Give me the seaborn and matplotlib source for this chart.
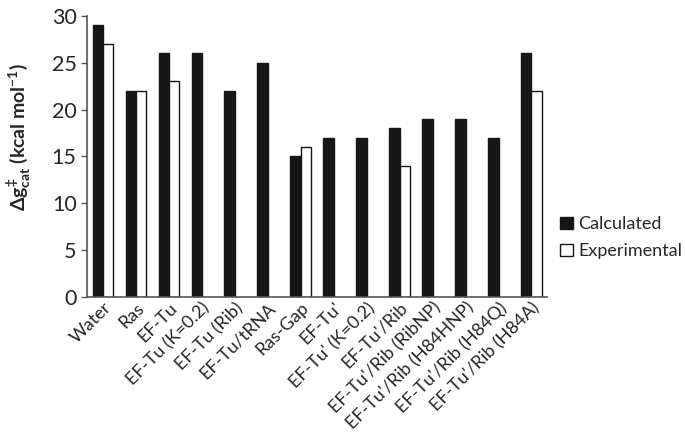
import numpy as np
import pandas as pd
import matplotlib
matplotlib.use('Agg')
import matplotlib.pyplot as plt
import seaborn as sns

# Data
systems = ['Water', 'Ras', 'EF-Tu', 'EF-Tu (K=0.2)', 'EF-Tu (Rib)', 'EF-Tu/tRNA',
           'Ras-Gap', "EF-Tu'", "EF-Tu' (K=0.2)", "EF-Tu'/Rib", "EF-Tu'/Rib (RibNP)",
           "EF-Tu'/Rib (H84HNP)", "EF-Tu'/Rib (H84Q)", "EF-Tu'/Rib (H84A)"]
calculated = [29, 22, 26, 26, 22, 25, 15, 17, 17, 18, 19, 19, 17, 26]
experimental = [27, 22, 23, np.nan, np.nan, np.nan, 16, np.nan, np.nan, 14,
                np.nan, np.nan, np.nan, 22]

df = pd.DataFrame({'System': systems * 2,
                   'Value': calculated + experimental,
                   'Type': ['Calculated'] * len(systems) + ['Experimental'] * len(systems)})

sns.set_style('ticks')
plt.rcParams['font.family'] = ['Lato', 'DejaVu Sans']
plt.rcParams['mathtext.fontset'] = 'custom'
plt.rcParams['mathtext.rm'] = 'Lato:bold'
plt.rcParams['mathtext.it'] = 'Lato:bold'
plt.rcParams['mathtext.bf'] = 'Lato:bold'

fig = plt.figure(figsize=(6.85, 4.41), dpi=100)
ax = fig.add_axes([0.127, 0.327, 0.672, 0.637])

sns.barplot(data=df, x='System', y='Value', hue='Type', ax=ax,
            palette={'Calculated': '#161616', 'Experimental': 'white'},
            width=0.62, gap=0, edgecolor='#161616', linewidth=1.0, saturation=1)

ax.set_ylim(0, 30)
ax.set_xlim(-0.48, len(systems) - 0.52)
ax.set_yticks([0, 5, 10, 15, 20, 25, 30])
ax.tick_params(axis='y', labelsize=15.5, length=4, width=1, color='#555555')
ax.tick_params(axis='x', length=0, labelsize=13, pad=2)
plt.setp(ax.get_xticklabels(), rotation=45, ha='right', rotation_mode='anchor')
for s in ['top', 'right']:
    ax.spines[s].set_visible(False)
for s in ['left', 'bottom']:
    ax.spines[s].set_color('#555555')
    ax.spines[s].set_linewidth(1.2)

ax.set_xlabel('')
ax.set_ylabel(r'$\Delta g^{\ddagger}_{cat}$ (kcal mol$^{-1}$)',
              fontsize=14, fontweight='bold')
ax.yaxis.set_label_coords(-0.118, 0.57)

sns.move_legend(ax, 'center left', bbox_to_anchor=(1.0, 0.21), frameon=False,
                title=None, fontsize=13, handlelength=0.7, handleheight=0.7,
                handletextpad=0.3, labelspacing=0.6, borderaxespad=0.3)

fig.savefig('out.png', dpi=100)
